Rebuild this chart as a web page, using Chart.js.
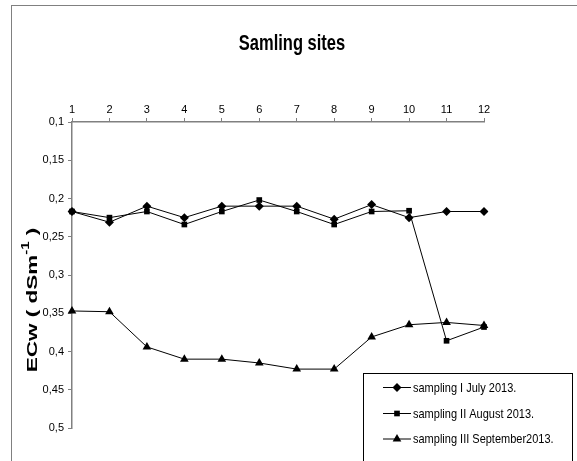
<!DOCTYPE html>
<html>
<head>
<meta charset="utf-8">
<script src="https://cdn.jsdelivr.net/npm/chart.js@4/dist/chart.umd.min.js"></script>
<style>
  html, body { margin: 0; padding: 0; background: #fff; }
  #wrap { width: 577px; height: 461px; }
</style>
</head>
<body>
<div id="wrap"><canvas id="chart" width="577" height="461"></canvas></div>
<script>
// sampling sites and ECw readings (dS/m)
const sites = ['1', '2', '3', '4', '5', '6', '7', '8', '9', '10', '11', '12'];
const july = [0.217, 0.231, 0.210, 0.225, 0.210, 0.210, 0.210, 0.227, 0.208, 0.225, 0.217, 0.217];
const august = [0.217, 0.225, 0.217, 0.234, 0.217, 0.202, 0.217, 0.234, 0.217, 0.216, 0.386, 0.368];
const september = [0.347, 0.348, 0.394, 0.410, 0.410, 0.415, 0.423, 0.423, 0.381, 0.365, 0.362, 0.366];
const seriesNames = ['sampling I July 2013.', 'sampling II August 2013.', 'sampling III September2013.'];
const chartTitle = 'Samling sites';

const FONT = "'Liberation Sans', Arial, sans-serif";
const AXIS_GREY = '#808080';

function lineSet(label, data, style, radius) {
    return {
        label: label,
        data: data,
        borderColor: '#000',
        backgroundColor: '#000',
        borderWidth: 1,
        pointStyle: style,
        pointRadius: radius,
        pointHoverRadius: radius,
        pointBorderWidth: 0,
        tension: 0
    };
}

// frame, titles (the original text is a bit stretched vertically) and the boxed legend
const decor = {
    id: 'decor',
    afterDraw(chart) {
        const ctx = chart.ctx;
        ctx.save();

        ctx.strokeStyle = AXIS_GREY;
        ctx.lineWidth = 1;
        ctx.strokeRect(11.5, 5.5, 700, 600);

        ctx.fillStyle = '#000';

        // chart title
        ctx.save();
        ctx.translate(292, 44);
        ctx.scale(1, 1.3);
        ctx.font = 'bold 16.5px ' + FONT;
        ctx.textAlign = 'center';
        ctx.textBaseline = 'middle';
        ctx.fillText(chartTitle, 0, 0);
        ctx.restore();

        // y axis title, rotated, with superscript
        ctx.save();
        ctx.translate(37, 300);
        ctx.rotate(-Math.PI / 2);
        ctx.scale(1.5, 1);
        ctx.textBaseline = 'alphabetic';
        ctx.textAlign = 'left';
        const a = 'ECw ( dSm', b = '-1', c = ' )';
        ctx.font = 'bold 15px ' + FONT;
        const wa = ctx.measureText(a).width;
        const wc = ctx.measureText(c).width;
        ctx.font = 'bold 10px ' + FONT;
        const wb = ctx.measureText(b).width;
        let x = -(wa + wb + wc) / 2;
        ctx.font = 'bold 15px ' + FONT;
        ctx.fillText(a, x, 0);
        x += wa;
        ctx.font = 'bold 10px ' + FONT;
        ctx.fillText(b, x, -8);
        x += wb;
        ctx.font = 'bold 15px ' + FONT;
        ctx.fillText(c, x, 0);
        ctx.restore();

        // legend
        ctx.fillStyle = '#fff';
        ctx.fillRect(363.5, 373.5, 209, 100);
        ctx.strokeStyle = '#000';
        ctx.strokeRect(363.5, 373.5, 209, 100);
        const rows = [387, 413, 438.5];
        chart.data.datasets.forEach((ds, i) => {
            const y = rows[i];
            ctx.strokeStyle = '#000';
            ctx.lineWidth = 1;
            ctx.beginPath();
            ctx.moveTo(383, y + 0.5);
            ctx.lineTo(411, y + 0.5);
            ctx.stroke();
            ctx.fillStyle = '#000';
            Chart.helpers.drawPoint(ctx, {
                pointStyle: ds.pointStyle,
                radius: ds.pointRadius,
                borderWidth: 0,
                rotation: 0
            }, 397, y + 0.5);
            ctx.save();
            ctx.translate(413, y + 1);
            ctx.scale(1, 1.2);
            ctx.font = '11px ' + FONT;
            ctx.textBaseline = 'middle';
            ctx.textAlign = 'left';
            ctx.fillText(ds.label, 0, 0);
            ctx.restore();
        });
        ctx.restore();
    }
};

new Chart(document.getElementById('chart'), {
    type: 'line',
    data: {
        labels: sites,
        datasets: [
            lineSet(seriesNames[0], july, 'rectRot', 4.5),
            lineSet(seriesNames[1], august, 'rect', 4),
            lineSet(seriesNames[2], september, 'triangle', 5)
        ]
    },
    options: {
        responsive: false,
        animation: false,
        layout: { padding: { left: 0, right: 93, top: 0, bottom: 33 } },
        plugins: {
            legend: { display: false },
            tooltip: { enabled: false },
            title: { display: false }
        },
        scales: {
            x: {
                position: 'top',
                offset: false,
                grid: {
                    display: true,
                    drawOnChartArea: false,
                    drawTicks: true,
                    tickLength: 4,
                    color: AXIS_GREY
                },
                border: { display: true, color: AXIS_GREY, width: 1.5 },
                ticks: {
                    color: '#000',
                    font: { family: FONT, size: 11 },
                    padding: 1,
                    maxRotation: 0
                },
                afterFit(scale) { scale.height = 122; }
            },
            y: {
                reverse: true,
                min: 0.1,
                max: 0.5,
                grid: {
                    display: true,
                    drawOnChartArea: false,
                    drawTicks: true,
                    tickLength: 4,
                    color: AXIS_GREY
                },
                border: { display: true, color: AXIS_GREY, width: 1.5 },
                ticks: {
                    stepSize: 0.05,
                    color: '#000',
                    font: { family: FONT, size: 11 },
                    padding: 4,
                    callback: v => String(Math.round(v * 100) / 100).replace('.', ',')
                },
                afterFit(scale) { scale.width = 72; }
            }
        }
    },
    plugins: [decor]
});
</script>
</body>
</html>
